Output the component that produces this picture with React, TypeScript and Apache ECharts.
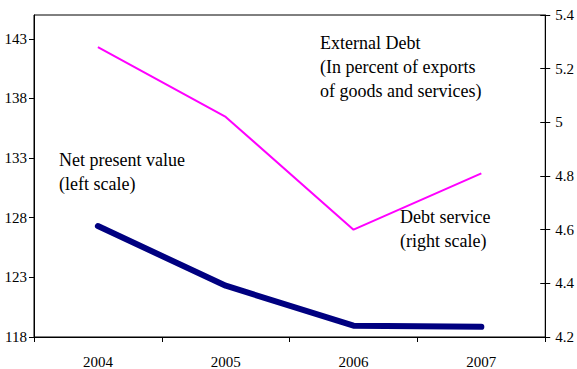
import React, { useEffect, useRef } from "react";
import * as echarts from "echarts";

const years = ["2004", "2005", "2006", "2007"];
const netPresentValue = [127.3, 122.3, 118.95, 118.85];
const debtService = [5.28, 5.02, 4.6, 4.81];
const leftTicks = [118, 123, 128, 133, 138, 143];
const rightTicks = [4.2, 4.4, 4.6, 4.8, 5, 5.2, 5.4];

const FONT = "Liberation Serif";

export default function App() {
  const ref = useRef<HTMLDivElement>(null);
  useEffect(() => {
    if (!ref.current) return;
    const chart = echarts.init(ref.current, null, { renderer: "svg" });
    chart.setOption({
      animation: false,
      backgroundColor: "#fff",
      textStyle: { fontFamily: FONT },
      grid: {
        left: 34, right: 31, top: 15, bottom: 32,
        show: true, borderColor: "#000", borderWidth: 1, backgroundColor: "transparent",
      },
      xAxis: {
        type: "category",
        data: years,
        boundaryGap: true,
        axisLine: { lineStyle: { color: "#000", width: 1 } },
        axisTick: { show: true, length: 5, lineStyle: { color: "#000" } },
        axisLabel: { color: "#000", fontFamily: FONT, fontSize: 15, margin: 17 },
        splitLine: { show: false },
      },
      yAxis: [
        {
          type: "value",
          position: "left",
          min: 118,
          max: 145,
          axisLine: { show: true, lineStyle: { color: "#000" } },
          axisTick: { show: true, length: 5, lineStyle: { color: "#000" }, customValues: leftTicks },
          axisLabel: { color: "#000", fontFamily: FONT, fontSize: 15, margin: 7, customValues: leftTicks },
          splitLine: { show: false },
        },
        {
          type: "value",
          position: "right",
          min: 4.2,
          max: 5.4,
          axisLine: { show: true, lineStyle: { color: "#000" } },
          axisTick: { show: true, length: 5, lineStyle: { color: "#000" }, customValues: rightTicks },
          axisLabel: {
            color: "#000", fontFamily: FONT, fontSize: 15, margin: 10, customValues: rightTicks,
            formatter: (v: number) => String(Math.round(v * 10) / 10),
          },
          splitLine: { show: false },
        },
        {
          type: "value",
          position: "right",
          min: 4.2,
          max: 5.4,
          axisLine: { show: false },
          axisTick: { show: true, inside: true, length: 5, lineStyle: { color: "#000" }, customValues: rightTicks },
          axisLabel: { show: false },
          splitLine: { show: false },
        },
      ],
      series: [
        {
          name: "Net present value",
          type: "line",
          yAxisIndex: 0,
          data: netPresentValue,
          symbol: "none",
          lineStyle: { color: "#000080", width: 6, cap: "round", join: "round" },
        },
        {
          name: "Debt service",
          type: "line",
          yAxisIndex: 1,
          data: debtService,
          symbol: "none",
          lineStyle: { color: "#ff00ff", width: 2 },
        },
      ],
      graphic: [
        {
          type: "text", left: 320, top: 31,
          style: {
            text: "External Debt\n(In percent of exports\nof goods and services)",
            fontFamily: FONT, fontSize: 18, fill: "#000", lineHeight: 24,
          },
        },
        {
          type: "text", left: 59, top: 148,
          style: { text: "Net present value\n(left scale)", fontFamily: FONT, fontSize: 18, fill: "#000", lineHeight: 24 },
        },
        {
          type: "text", left: 400, top: 205,
          style: { text: "Debt service\n(right scale)", fontFamily: FONT, fontSize: 18, fill: "#000", lineHeight: 24 },
        },
      ],
    });
    return () => chart.dispose();
  }, []);
  return (
    <div
      ref={ref}
      style={{ position: "fixed", left: 0, top: 0, width: 577, height: 369, background: "#fff" }}
    />
  );
}
